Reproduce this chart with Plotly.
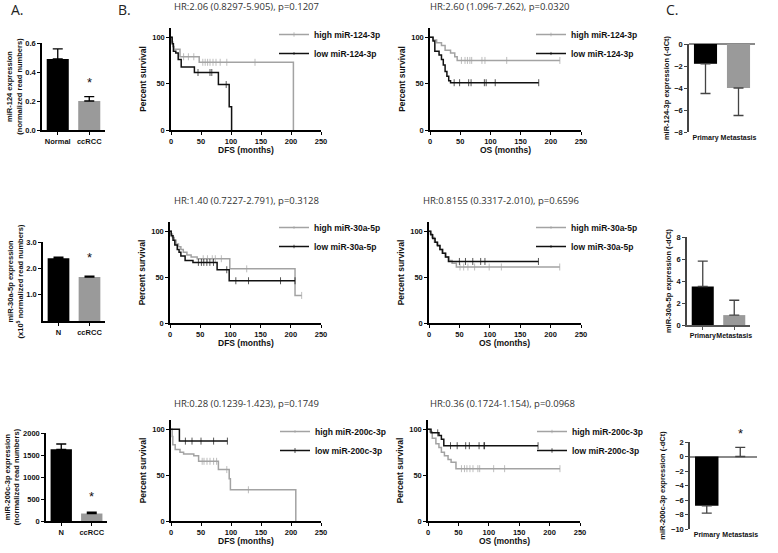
import plotly.graph_objects as go
from plotly.subplots import make_subplots

W, H = 778, 553

# ---------------- Panel A data (bar charts) ----------------
a1_cats = ["Normal", "ccRCC"]
a1_vals = [0.49, 0.20]
a1_err = [0.07, 0.03]
a1_ticks = [0.0, 0.2, 0.4, 0.6]
a1_star = 0.33

a2_cats = ["N", "ccRCC"]
a2_vals = [2.38, 1.67]
a2_err = [0.04, 0.03]
a2_ticks = [1.0, 2.0, 3.0]
a2_star = 2.4

a3_cats = ["N", "ccRCC"]
a3_vals = [1630, 170]
a3_err = [120, 30]
a3_ticks = [0, 500, 1000, 1500, 2000]
a3_star = 550

# ---------------- Panel C data (bar charts, -dCt) ----------------
c_cats = ["Primary", "Metastasis"]
c1_vals = [-1.8, -4.0]
c1_err = [2.7, 2.5]
c1_ticks = [0, -2, -4, -6, -8]
c2_vals = [3.5, 0.9]
c2_err = [2.3, 1.35]
c2_ticks = [0, 2, 4, 6, 8]
c3_vals = [-6.8, 0.0]
c3_err = [1.0, 1.25]
c3_ticks = [2, 0, -2, -4, -6, -8, -10]

# ---------------- Panel B data (Kaplan-Meier) ----------------
km_xticks = [0, 50, 100, 150, 200, 250]
km_yticks = [0, 50, 100]

# miR-124-3p DFS
dfs124_hi_t = [0, 1, 3, 5, 15, 21, 29, 38, 47, 53, 57, 61, 65, 70, 75, 82, 93, 140, 204]
dfs124_hi_s = [100, 95, 90, 87, 79, 79, 79, 79, 73, 73, 73, 73, 73, 73, 73, 73, 73, 73, 0]
dfs124_hi_c = [0, 0, 0, 0, 0, 1, 1, 1, 0, 1, 1, 1, 1, 1, 1, 1, 1, 1, 0]
dfs124_lo_t = [0, 2, 4, 8, 12, 17, 39, 45, 65, 68, 79, 92, 97, 101]
dfs124_lo_s = [100, 93, 85, 83, 76, 68, 62, 62, 62, 62, 49, 49, 25, 0]
dfs124_lo_c = [0, 0, 0, 0, 0, 0, 0, 1, 1, 1, 0, 1, 0, 0]
# miR-124-3p OS
os124_hi_t = [0, 5, 11, 19, 25, 34, 41, 45, 52, 58, 62, 66, 69, 86, 91, 127, 215]
os124_hi_s = [100, 97, 94, 91, 86, 83, 79, 75, 75, 75, 75, 75, 75, 75, 75, 75, 75]
os124_hi_c = [0, 0, 0, 0, 0, 0, 0, 0, 1, 1, 1, 1, 1, 1, 1, 1, 1]
os124_lo_t = [0, 5, 8, 15, 19, 22, 25, 28, 31, 34, 40, 49, 64, 68, 90, 93, 108, 180]
os124_lo_s = [100, 96, 85, 81, 76, 70, 63, 58, 53, 51, 51, 51, 51, 51, 51, 51, 51, 51]
os124_lo_c = [0, 0, 0, 0, 0, 0, 0, 0, 0, 0, 1, 1, 1, 1, 1, 1, 1, 1]
# miR-30a-5p DFS
dfs30_hi_t = [0, 2, 4, 7, 10, 14, 18, 22, 28, 35, 45, 55, 62, 70, 75, 85, 99, 127, 207, 218]
dfs30_hi_s = [100, 97, 93, 90, 86, 83, 80, 77, 74, 72, 70, 70, 70, 70, 70, 70, 59, 59, 30, 30]
dfs30_hi_c = [0, 0, 0, 0, 0, 0, 0, 0, 0, 0, 0, 1, 1, 1, 1, 1, 0, 1, 0, 1]
dfs30_lo_t = [0, 2, 5, 8, 12, 15, 18, 25, 38, 47, 52, 56, 61, 66, 72, 78, 94, 98, 109, 130, 183, 207]
dfs30_lo_s = [100, 95, 90, 85, 80, 77, 73, 68, 66, 66, 66, 66, 66, 66, 66, 58, 58, 46, 46, 46, 46, 46]
dfs30_lo_c = [0, 0, 0, 0, 0, 0, 0, 0, 0, 1, 1, 1, 1, 1, 1, 0, 1, 0, 1, 1, 1, 1]
# miR-30a-5p OS
os30_hi_t = [0, 2, 5, 9, 13, 18, 23, 28, 33, 38, 45, 51, 57, 64, 75, 99, 119, 215]
os30_hi_s = [100, 97, 93, 88, 85, 80, 76, 72, 68, 65, 61, 61, 61, 61, 61, 61, 61, 61]
os30_hi_c = [0, 0, 0, 0, 0, 0, 0, 0, 0, 0, 0, 1, 1, 1, 1, 1, 1, 1]
os30_lo_t = [0, 3, 6, 10, 14, 18, 22, 27, 32, 50, 60, 72, 85, 92, 180]
os30_lo_s = [100, 96, 92, 88, 84, 80, 76, 72, 67, 67, 67, 67, 67, 67, 67]
os30_lo_c = [0, 0, 0, 0, 0, 0, 0, 0, 0, 1, 1, 1, 1, 1, 1]
# miR-200c-3p DFS
dfs200_hi_t = [0, 2, 3, 7, 15, 21, 38, 46, 52, 55, 60, 65, 71, 76, 79, 93, 97, 99, 129, 208]
dfs200_hi_s = [100, 92, 83, 78, 75, 73, 71, 65, 65, 65, 65, 65, 65, 65, 56, 56, 46, 34, 34, 0]
dfs200_hi_c = [0, 0, 0, 0, 0, 0, 0, 0, 1, 1, 1, 1, 1, 1, 0, 1, 0, 0, 1, 0]
dfs200_lo_t = [0, 14, 24, 35, 50, 71, 94]
dfs200_lo_s = [100, 87, 87, 87, 87, 87, 87]
dfs200_lo_c = [0, 0, 1, 1, 1, 1, 1]
# miR-200c-3p OS
os200_hi_t = [0, 3, 7, 13, 18, 22, 27, 33, 38, 46, 55, 60, 64, 69, 74, 82, 85, 108, 126, 217]
os200_hi_s = [100, 97, 90, 84, 80, 75, 71, 67, 64, 57, 57, 57, 57, 57, 57, 57, 57, 57, 57, 57]
os200_hi_c = [0, 0, 0, 0, 0, 0, 0, 0, 0, 0, 1, 1, 1, 1, 1, 1, 1, 1, 1, 1]
os200_lo_t = [0, 5, 16, 18, 22, 26, 37, 48, 62, 68, 84, 92, 93, 181]
os200_lo_s = [100, 96, 96, 93, 89, 82, 82, 82, 82, 82, 82, 82, 82, 82]
os200_lo_c = [0, 0, 1, 0, 0, 0, 1, 1, 1, 1, 1, 1, 1, 1]

hr_texts = [
    "HR:2.06 (0.8297-5.905), p=0.1207",
    "HR:2.60 (1.096-7.262), p=0.0320",
    "HR:1.40 (0.7227-2.791), p=0.3128",
    "HR:0.8155 (0.3317-2.010), p=0.6596",
    "HR:0.28 (0.1239-1.423), p=0.1749",
    "HR:0.36 (0.1724-1.154), p=0.0968",
]

# ---------------------------------------------------------------
BOLD = "Liberation Sans"
GRAY = "#a3a3a3"
BLACK = "#111111"

fig = make_subplots(rows=3, cols=4)


def ax_id(r, c):
    n = (r - 1) * 4 + c
    return ("" if n == 1 else str(n)), n


def xd(p0, p1):
    return [p0 / W, p1 / W]


def yd(top, bot):
    return [1 - bot / H, 1 - top / H]


def add_bar(r, c, cats, vals, errs, cols, errcol):
    plus = [e if v >= 0 else 0 for v, e in zip(vals, errs)]
    minus = [0 if v >= 0 else e for v, e in zip(vals, errs)]
    fig.add_trace(go.Bar(
        x=cats, y=vals, marker=dict(color=cols, line=dict(width=0)),
        error_y=dict(type="data", symmetric=False, array=plus, arrayminus=minus,
                     color=errcol, thickness=1.3, width=5),
        showlegend=False, hoverinfo="skip"), row=r, col=c)


def add_km(r, c, t, s, cflag, name, color, legend):
    fig.add_trace(go.Scatter(
        x=t, y=s, mode="lines+markers", line=dict(shape="hv", color=color, width=1.5),
        marker=dict(symbol="line-ns", size=[5 if f else 0 for f in cflag],
                    line=dict(color=color, width=1)),
        name=name, legend=legend, hoverinfo="skip"), row=r, col=c)


# Panel A bars
add_bar(1, 1, a1_cats, a1_vals, a1_err, ["#000000", "#9a9a9a"], "#000")
add_bar(2, 1, a2_cats, a2_vals, a2_err, ["#000000", "#9a9a9a"], "#000")
add_bar(3, 1, a3_cats, a3_vals, a3_err, ["#000000", "#9a9a9a"], "#000")
# Panel C bars
add_bar(1, 4, c_cats, c1_vals, c1_err, ["#000000", "#9a9a9a"], "#444")
add_bar(2, 4, c_cats, c2_vals, c2_err, ["#000000", "#9a9a9a"], "#444")
add_bar(3, 4, c_cats, c3_vals, c3_err, ["#000000", "#9a9a9a"], "#444")

# Panel B KM curves
km = [
    (1, 2, dfs124_hi_t, dfs124_hi_s, dfs124_hi_c, dfs124_lo_t, dfs124_lo_s, dfs124_lo_c, "miR-124-3p", "legend"),
    (1, 3, os124_hi_t, os124_hi_s, os124_hi_c, os124_lo_t, os124_lo_s, os124_lo_c, "miR-124-3p", "legend2"),
    (2, 2, dfs30_hi_t, dfs30_hi_s, dfs30_hi_c, dfs30_lo_t, dfs30_lo_s, dfs30_lo_c, "miR-30a-5p", "legend3"),
    (2, 3, os30_hi_t, os30_hi_s, os30_hi_c, os30_lo_t, os30_lo_s, os30_lo_c, "miR-30a-5p", "legend4"),
    (3, 2, dfs200_hi_t, dfs200_hi_s, dfs200_hi_c, dfs200_lo_t, dfs200_lo_s, dfs200_lo_c, "miR-200c-3p", "legend5"),
    (3, 3, os200_hi_t, os200_hi_s, os200_hi_c, os200_lo_t, os200_lo_s, os200_lo_c, "miR-200c-3p", "legend6"),
]
for (r, c, ht, hs, hc, lt, ls, lc, mir, lg) in km:
    add_km(r, c, ht, hs, hc, "high " + mir, GRAY, lg)
    add_km(r, c, lt, ls, lc, "low " + mir, BLACK, lg)

tickfont = dict(family=BOLD, size=7.5, color="#111", weight="bold")
ctickfont = dict(family=BOLD, size=7, color="#111", weight="bold")
titlefont = dict(family=BOLD, size=7.5, color="#111", weight="bold")
kmtitlefont = dict(family=BOLD, size=8.5, color="#111", weight="bold")

axis_common = dict(showgrid=False, zeroline=False, showline=True, linecolor="#000",
                   linewidth=1.5, ticks="outside", ticklen=3, tickwidth=1.2,
                   tickcolor="#000", tickfont=tickfont, automargin=False, tickangle=0)

lay = {}
# Panel A axes
a_specs = [
    (1, (42, 105), (43, 130), [0, 0.6], a1_ticks, ".1f",
     "miR-124 expression<br>(normalized read numbers)"),
    (2, (43, 105), (242, 321), [0, 3], a2_ticks, ".1f",
     "miR-30a-5p expression<br>(x10<sup>5</sup> normalized read numbers)"),
    (3, (46, 107), (433, 521), [0, 2000], a3_ticks, "d",
     "miR-200c-3p expression<br>(normalized read numbers)"),
]
for (r, xp, yp, rng, tv, fmt, ttl) in a_specs:
    s, n = ax_id(r, 1)
    lay["xaxis" + s] = dict(axis_common, domain=xd(*xp))
    lay["yaxis" + s] = dict(axis_common, domain=yd(*yp), range=rng, tickvals=tv,
                            tickformat=fmt,
                            title=dict(text=ttl, font=titlefont, standoff=2))

# Panel B axes (x titles drawn as annotations below)
b_specs = [
    (1, 2, (171, 321), (28, 130), "DFS (months)", 150),
    (1, 3, (430, 581), (28, 130), "OS (months)", 150),
    (2, 2, (170, 321), (222, 323), "DFS (months)", 343),
    (2, 3, (429, 581), (222, 323), "OS (months)", 343),
    (3, 2, (171, 321), (420, 521), "DFS (months)", 541),
    (3, 3, (428, 580), (420, 521), "OS (months)", 541),
]
for (r, c, xp, yp, xt, ty) in b_specs:
    s, n = ax_id(r, c)
    lay["xaxis" + s] = dict(axis_common, domain=xd(*xp), range=[0, 250], tickvals=km_xticks)
    lay["yaxis" + s] = dict(axis_common, domain=yd(*yp), range=[0, 110], tickvals=km_yticks,
                            title=dict(text="Percent survival", font=kmtitlefont, standoff=4))

# Panel C axes
c_specs = [
    (1, (689, 755), (44, 132), [-8, 0], c1_ticks, "miR-124-3p expression (-dCt)"),
    (2, (687, 750), (237, 325), [0, 8], c2_ticks, "miR-30a-5p expression (-dCt)"),
    (3, (690, 757), (442, 529), [-10, 2], c3_ticks, "miR-200c-3p expression (-dCt)"),
]
for (r, xp, yp, rng, tv, ttl) in c_specs:
    s, n = ax_id(r, 4)
    if r == 2:
        xa = dict(axis_common, domain=xd(*xp), linecolor="#555", tickcolor="#555",
                  tickfont=ctickfont)
    else:
        xa = dict(axis_common, domain=xd(*xp), showline=False, ticks="", tickfont=ctickfont)
    lay["xaxis" + s] = xa
    lay["yaxis" + s] = dict(axis_common, domain=yd(*yp), range=rng, tickvals=tv,
                            linecolor="#444", tickcolor="#444",
                            zeroline=(r != 2), zerolinecolor="#8a8a8a", zerolinewidth=1.5,
                            title=dict(text=ttl, font=titlefont, standoff=4))

# Legends
leg_font = dict(family=BOLD, size=8.5, color="#111", weight="bold")
leg_pos = [("legend", 274, 20), ("legend2", 531, 20), ("legend3", 274, 213),
           ("legend4", 531, 213), ("legend5", 275, 417), ("legend6", 532, 417)]
for (lg, lx, ly) in leg_pos:
    lay[lg] = dict(x=lx / W, y=1 - ly / H, xanchor="left", yanchor="top",
                   bgcolor="rgba(0,0,0,0)", font=leg_font, tracegroupgap=0,
                   itemwidth=30)

fig.update_layout(**lay)

# Annotations: panel letters, HR texts, axis titles, stars
ann = []
for (txt, px, py) in [("A.", 17, 10), ("B.", 124, 10), ("C.", 672, 9)]:
    ann.append(dict(text=txt, x=px / W, y=1 - py / H, xref="paper", yref="paper",
                    showarrow=False, xanchor="center", yanchor="middle",
                    font=dict(family="Open Sans", size=14, color="#222", weight="normal")))
hr_pos = [(246, 7), (500, 7), (246, 200), (501, 200), (246, 403), (502, 403)]
for txt, (px, py) in zip(hr_texts, hr_pos):
    ann.append(dict(text=txt, x=px / W, y=1 - py / H, xref="paper", yref="paper",
                    showarrow=False, xanchor="center", yanchor="middle",
                    font=dict(family="Open Sans", size=9.5, color="#333", weight="normal")))
for (r, c, xp, yp, xt, ty) in b_specs:
    s, n = ax_id(r, c)
    ann.append(dict(text=xt, x=0.5, y=1 - ty / H, xref="x" + s + " domain", yref="paper",
                    showarrow=False, xanchor="center", yanchor="middle", font=kmtitlefont))
for (r, cat, yv) in [(1, "ccRCC", a1_star), (2, "ccRCC", a2_star), (3, "ccRCC", a3_star)]:
    s, n = ax_id(r, 1)
    ann.append(dict(text="*", x=cat, y=yv, xref="x" + s, yref="y" + s, showarrow=False,
                    font=dict(family=BOLD, size=13, color="#111", weight="normal")))
s, n = ax_id(3, 4)
ann.append(dict(text="*", x="Metastasis", y=1 - 433 / H, xref="x" + s, yref="paper",
                showarrow=False, yanchor="middle",
                font=dict(family=BOLD, size=13, color="#111", weight="normal")))

fig.update_layout(
    annotations=ann,
    width=W, height=H,
    margin=dict(l=0, r=0, t=0, b=0),
    paper_bgcolor="white", plot_bgcolor="white",
    bargap=0.3,
    font=dict(family=BOLD, size=8, color="#111"),
)

fig.write_html("out.html", config={"displayModeBar": False},
               post_script="document.body.style.margin='0';document.body.style.padding='0';")
